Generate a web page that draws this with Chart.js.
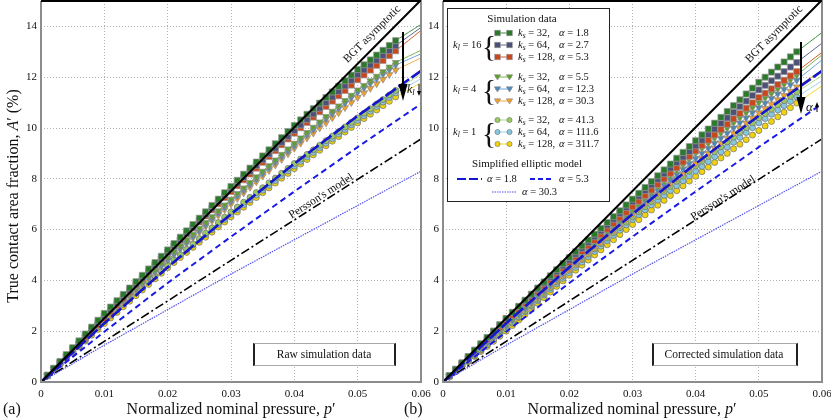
<!DOCTYPE html>
<html>
<head>
<meta charset="utf-8">
<title>True contact area fraction vs normalized nominal pressure</title>
<script src="https://cdn.jsdelivr.net/npm/chart.js@4.4.1/dist/chart.umd.min.js"></script>
<style>
  html, body { margin:0; padding:0; background:#fff; }
  #fig { position:relative; width:831px; height:420px; overflow:hidden;
         font-family:"Liberation Serif","Times New Roman",serif; color:#111; }
  #fig canvas { position:absolute; top:0; }
  #cA { left:0; }
  #cB { left:402px; }
  .t  { position:absolute; white-space:nowrap; line-height:1; z-index:4; }
  .c  { transform:translate(-50%,-50%); }
  .m  { transform:translateY(-50%); }
  .lg { font-size:10.5px; }
  .box { position:absolute; background:#fff; z-index:2; }
  .ov  { position:absolute; left:0; top:0; z-index:3; pointer-events:none; }
  sub { font-size:0.72em; vertical-align:-0.28em; line-height:0; }
  .br { font-size:30px; font-weight:normal; }
</style>
</head>
<body>
<div id="fig">
  <canvas id="cA" width="431" height="400"></canvas>
  <canvas id="cB" width="430" height="400"></canvas>

  <!-- axis titles -->
  <div class="t" style="left:13px;top:196px;font-size:16px;transform:translate(-50%,-50%) rotate(-90deg);">True contact area fraction, <i>A</i>′ (%)</div>
  <div class="t c" style="left:231px;top:409px;font-size:16px;">Normalized nominal pressure, <i>p</i>′</div>
  <div class="t c" style="left:632px;top:409px;font-size:16px;">Normalized nominal pressure, <i>p</i>′</div>
  <div class="t m" style="left:3px;top:409px;font-size:16px;">(a)</div>
  <div class="t m" style="left:404px;top:409px;font-size:16px;">(b)</div>

  <!-- curve labels -->
  <div class="t" style="left:372px;top:34px;font-size:11.5px;transform:translate(-50%,-50%) rotate(-45deg);">BGT asymptotic</div>
  <div class="t" style="left:774px;top:34px;font-size:11.5px;transform:translate(-50%,-50%) rotate(-45deg);">BGT asymptotic</div>
  <div class="t" style="left:321px;top:196px;font-size:11.5px;transform:translate(-50%,-50%) rotate(-32.6deg);">Persson's model</div>
  <div class="t" style="left:723px;top:198px;font-size:11.5px;transform:translate(-50%,-50%) rotate(-32.6deg);">Persson's model</div>

  <div class="t m" style="left:407px;top:89px;font-size:12px;"><i>k<sub>l</sub></i></div>
  <div class="t m" style="left:806px;top:106px;font-size:13px;"><i>α</i></div>

  <!-- panel tags -->
  <div class="box" style="left:253px;top:343px;width:139px;height:21px;border:1px solid #aaa;border-left:2px solid #222;border-right:2px solid #222;"></div>
  <div class="t c" style="left:324px;top:355px;font-size:11.5px;">Raw simulation data</div>
  <div class="box" style="left:652px;top:343px;width:142px;height:21px;border:1px solid #aaa;border-left:2px solid #222;border-right:2px solid #222;"></div>
  <div class="t c" style="left:724px;top:355px;font-size:11.5px;">Corrected simulation data</div>

  <!-- legend (panel b) -->
  <div class="box" style="left:447px;top:8px;width:161px;height:192px;border:1px solid #222;"></div>
  <div class="t c lg" style="left:522px;top:18px;font-size:11px;">Simulation data</div>

  <div class="t m lg" style="left:453px;top:45px;"><i>k<sub>l</sub></i> = 16</div>
  <div class="t c br" style="left:489px;top:46px;">{</div>
  <div class="t m lg" style="left:518px;top:33px;"><i>k<sub>s</sub></i> = 32,</div>
  <div class="t m lg" style="left:559px;top:33px;"><i>α</i> = 1.8</div>
  <div class="t m lg" style="left:518px;top:45px;"><i>k<sub>s</sub></i> = 64,</div>
  <div class="t m lg" style="left:559px;top:45px;"><i>α</i> = 2.7</div>
  <div class="t m lg" style="left:518px;top:57px;"><i>k<sub>s</sub></i> = 128,</div>
  <div class="t m lg" style="left:559px;top:57px;"><i>α</i> = 5.3</div>

  <div class="t m lg" style="left:453px;top:89px;"><i>k<sub>l</sub></i> = 4</div>
  <div class="t c br" style="left:489px;top:90px;">{</div>
  <div class="t m lg" style="left:518px;top:77px;"><i>k<sub>s</sub></i> = 32,</div>
  <div class="t m lg" style="left:559px;top:77px;"><i>α</i> = 5.5</div>
  <div class="t m lg" style="left:518px;top:89px;"><i>k<sub>s</sub></i> = 64,</div>
  <div class="t m lg" style="left:559px;top:89px;"><i>α</i> = 12.3</div>
  <div class="t m lg" style="left:518px;top:101px;"><i>k<sub>s</sub></i> = 128,</div>
  <div class="t m lg" style="left:559px;top:101px;"><i>α</i> = 30.3</div>

  <div class="t m lg" style="left:453px;top:132px;"><i>k<sub>l</sub></i> = 1</div>
  <div class="t c br" style="left:489px;top:133px;">{</div>
  <div class="t m lg" style="left:518px;top:120px;"><i>k<sub>s</sub></i> = 32,</div>
  <div class="t m lg" style="left:559px;top:120px;"><i>α</i> = 41.3</div>
  <div class="t m lg" style="left:518px;top:132px;"><i>k<sub>s</sub></i> = 64,</div>
  <div class="t m lg" style="left:559px;top:132px;"><i>α</i> = 111.6</div>
  <div class="t m lg" style="left:518px;top:144px;"><i>k<sub>s</sub></i> = 128,</div>
  <div class="t m lg" style="left:559px;top:144px;"><i>α</i> = 311.7</div>

  <div class="t c lg" style="left:527px;top:163px;font-size:11px;">Simplified elliptic model</div>
  <div class="t m lg" style="left:487px;top:179px;"><i>α</i> = 1.8</div>
  <div class="t m lg" style="left:559px;top:179px;"><i>α</i> = 5.3</div>
  <div class="t m lg" style="left:522px;top:192px;"><i>α</i> = 30.3</div>

  <svg id="ov" class="ov" width="831" height="420"></svg>
</div>

<script>
/* ── DATA ─────────────────────────────────────────────── */
// normalized nominal pressure p' of each simulation sample
const P = [0,
  0.001,0.002,0.003,0.004,0.005,0.006,0.007,0.008,0.009,0.010,
  0.011,0.012,0.013,0.014,0.015,0.016,0.017,0.018,0.019,0.020,
  0.021,0.022,0.023,0.024,0.025,0.026,0.027,0.028,0.029,0.030,
  0.031,0.032,0.033,0.034,0.035,0.036,0.037,0.038,0.039,0.040,
  0.041,0.042,0.043,0.044,0.045,0.046,0.047,0.048,0.049,0.050,
  0.051,0.052,0.053,0.054,0.055,0.056,0.057,0.058,0.059,0.060];
const FIRST_MARK = 1;
const LAST_MARK  = 56;    // markers stop here, the curve runs on to 0.06

// model curves
const P_MODEL = [0, 0.01, 0.02, 0.03, 0.04, 0.05, 0.06];
const BGT     = [0, 2.51, 5.01, 7.52, 10.03, 12.53, 15.04];
const PERSSON = [0, 1.60, 3.19, 4.79, 6.38, 7.98, 9.57];
const ELL_18  = [0, 2.31, 4.52, 6.61, 8.60, 10.48, 12.25];
const ELL_53  = [0, 1.98, 3.90, 5.72, 7.50, 9.25, 10.95];
const ELL_303 = [0, 1.45, 2.85, 4.25, 5.60, 6.95, 8.30];

const X_TICKS = [0, 0.01, 0.02, 0.03, 0.04, 0.05, 0.06];
const Y_TICKS = [0, 2, 4, 6, 8, 10, 12, 14];

/* (a) raw simulation data, A' in % */
const RAW_K16_S32 = [0,
  0.27,0.54,0.81,1.08,1.35,1.62,1.89,2.16,2.43,2.70,
  2.95,3.20,3.45,3.70,3.95,4.20,4.45,4.70,4.95,5.20,
  5.45,5.70,5.95,6.20,6.45,6.70,6.95,7.20,7.45,7.70,
  7.94,8.18,8.42,8.66,8.90,9.14,9.38,9.62,9.86,10.10,
  10.32,10.54,10.76,10.98,11.20,11.42,11.64,11.86,12.08,12.30,
  12.49,12.68,12.87,13.06,13.25,13.44,13.60,13.76,13.92,14.08];
const RAW_K16_S64 = [0,
  0.26,0.52,0.78,1.04,1.30,1.56,1.82,2.08,2.34,2.60,
  2.85,3.10,3.35,3.60,3.85,4.10,4.35,4.60,4.85,5.10,
  5.35,5.60,5.85,6.10,6.35,6.60,6.85,7.10,7.35,7.60,
  7.83,8.06,8.29,8.52,8.75,8.98,9.21,9.44,9.67,9.90,
  10.12,10.34,10.56,10.78,11.00,11.22,11.44,11.66,11.88,12.10,
  12.29,12.48,12.67,12.86,13.05,13.24,13.42,13.60,13.78,13.96];
const RAW_K16_S128 = [0,
  0.25,0.50,0.75,1.00,1.25,1.50,1.75,2.00,2.25,2.50,
  2.76,3.02,3.28,3.54,3.80,4.06,4.32,4.58,4.84,5.10,
  5.34,5.58,5.82,6.06,6.30,6.54,6.78,7.02,7.26,7.50,
  7.73,7.96,8.19,8.42,8.65,8.88,9.11,9.34,9.57,9.80,
  10.01,10.22,10.43,10.64,10.85,11.06,11.27,11.48,11.69,11.90,
  12.09,12.28,12.47,12.66,12.85,13.04,13.24,13.44,13.64,13.84];
const RAW_K4_S32 = [0,
  0.25,0.50,0.75,1.00,1.25,1.50,1.75,2.00,2.25,2.50,
  2.74,2.98,3.22,3.46,3.70,3.94,4.18,4.42,4.66,4.90,
  5.13,5.36,5.59,5.82,6.05,6.28,6.51,6.74,6.97,7.20,
  7.42,7.64,7.86,8.08,8.30,8.52,8.74,8.96,9.18,9.40,
  9.61,9.82,10.03,10.24,10.45,10.66,10.87,11.08,11.29,11.50,
  11.68,11.86,12.04,12.22,12.40,12.58,12.70,12.82,12.94,13.06];
const RAW_K4_S64 = [0,
  0.25,0.50,0.75,1.00,1.25,1.50,1.75,2.00,2.25,2.50,
  2.73,2.96,3.19,3.42,3.65,3.88,4.11,4.34,4.57,4.80,
  5.03,5.26,5.49,5.72,5.95,6.18,6.41,6.64,6.87,7.10,
  7.32,7.54,7.76,7.98,8.20,8.42,8.64,8.86,9.08,9.30,
  9.51,9.72,9.93,10.14,10.35,10.56,10.77,10.98,11.19,11.40,
  11.58,11.76,11.94,12.12,12.30,12.48,12.59,12.70,12.81,12.92];
const RAW_K4_S128 = [0,
  0.24,0.48,0.72,0.96,1.20,1.44,1.68,1.92,2.16,2.40,
  2.64,2.88,3.12,3.36,3.60,3.84,4.08,4.32,4.56,4.80,
  5.02,5.24,5.46,5.68,5.90,6.12,6.34,6.56,6.78,7.00,
  7.22,7.44,7.66,7.88,8.10,8.32,8.54,8.76,8.98,9.20,
  9.40,9.60,9.80,10.00,10.20,10.40,10.60,10.80,11.00,11.20,
  11.38,11.56,11.74,11.92,12.10,12.28,12.40,12.52,12.64,12.76];
const RAW_K1_S32 = [0,
  0.24,0.48,0.72,0.96,1.20,1.44,1.68,1.92,2.16,2.40,
  2.62,2.84,3.06,3.28,3.50,3.72,3.94,4.16,4.38,4.60,
  4.81,5.02,5.23,5.44,5.65,5.86,6.07,6.28,6.49,6.70,
  6.89,7.08,7.27,7.46,7.65,7.84,8.03,8.22,8.41,8.60,
  8.78,8.96,9.14,9.32,9.50,9.68,9.86,10.04,10.22,10.40,
  10.58,10.76,10.94,11.12,11.30,11.48,11.64,11.80,11.96,12.12];
const RAW_K1_S64 = [0,
  0.24,0.48,0.72,0.96,1.20,1.44,1.68,1.92,2.16,2.40,
  2.62,2.84,3.06,3.28,3.50,3.72,3.94,4.16,4.38,4.60,
  4.80,5.00,5.20,5.40,5.60,5.80,6.00,6.20,6.40,6.60,
  6.79,6.98,7.17,7.36,7.55,7.74,7.93,8.12,8.31,8.50,
  8.68,8.86,9.04,9.22,9.40,9.58,9.76,9.94,10.12,10.30,
  10.48,10.66,10.84,11.02,11.20,11.38,11.52,11.66,11.80,11.94];
const RAW_K1_S128 = [0,
  0.23,0.46,0.69,0.92,1.15,1.38,1.61,1.84,2.07,2.30,
  2.52,2.74,2.96,3.18,3.40,3.62,3.84,4.06,4.28,4.50,
  4.70,4.90,5.10,5.30,5.50,5.70,5.90,6.10,6.30,6.50,
  6.69,6.88,7.07,7.26,7.45,7.64,7.83,8.02,8.21,8.40,
  8.58,8.76,8.94,9.12,9.30,9.48,9.66,9.84,10.02,10.20,
  10.37,10.54,10.71,10.88,11.05,11.22,11.36,11.50,11.64,11.78];

/* (b) corrected simulation data, A' in % */
const COR_K16_S32 = [0,
  0.25,0.50,0.75,1.00,1.25,1.50,1.75,2.00,2.25,2.50,
  2.74,2.98,3.22,3.46,3.70,3.94,4.18,4.42,4.66,4.90,
  5.13,5.36,5.59,5.82,6.05,6.28,6.51,6.74,6.97,7.20,
  7.43,7.66,7.89,8.12,8.35,8.58,8.81,9.04,9.27,9.50,
  9.73,9.96,10.19,10.42,10.65,10.88,11.11,11.34,11.57,11.80,
  12.00,12.20,12.40,12.60,12.80,13.00,13.19,13.38,13.57,13.76];
const COR_K16_S64 = [0,
  0.25,0.50,0.75,1.00,1.25,1.50,1.75,2.00,2.25,2.50,
  2.73,2.96,3.19,3.42,3.65,3.88,4.11,4.34,4.57,4.80,
  5.03,5.26,5.49,5.72,5.95,6.18,6.41,6.64,6.87,7.10,
  7.32,7.54,7.76,7.98,8.20,8.42,8.64,8.86,9.08,9.30,
  9.52,9.74,9.96,10.18,10.40,10.62,10.84,11.06,11.28,11.50,
  11.68,11.86,12.04,12.22,12.40,12.58,12.77,12.96,13.15,13.34];
const COR_K16_S128 = [0,
  0.24,0.48,0.72,0.96,1.20,1.44,1.68,1.92,2.16,2.40,
  2.63,2.86,3.09,3.32,3.55,3.78,4.01,4.24,4.47,4.70,
  4.92,5.14,5.36,5.58,5.80,6.02,6.24,6.46,6.68,6.90,
  7.12,7.34,7.56,7.78,8.00,8.22,8.44,8.66,8.88,9.10,
  9.31,9.52,9.73,9.94,10.15,10.36,10.57,10.78,10.99,11.20,
  11.37,11.54,11.71,11.88,12.05,12.22,12.41,12.60,12.79,12.98];
const COR_K4_S32 = [0,
  0.23,0.46,0.69,0.92,1.15,1.38,1.61,1.84,2.07,2.30,
  2.53,2.76,2.99,3.22,3.45,3.68,3.91,4.14,4.37,4.60,
  4.82,5.04,5.26,5.48,5.70,5.92,6.14,6.36,6.58,6.80,
  7.02,7.24,7.46,7.68,7.90,8.12,8.34,8.56,8.78,9.00,
  9.20,9.40,9.60,9.80,10.00,10.20,10.40,10.60,10.80,11.00,
  11.18,11.36,11.54,11.72,11.90,12.08,12.28,12.48,12.68,12.88];
const COR_K4_S64 = [0,
  0.22,0.44,0.66,0.88,1.10,1.32,1.54,1.76,1.98,2.20,
  2.43,2.66,2.89,3.12,3.35,3.58,3.81,4.04,4.27,4.50,
  4.72,4.94,5.16,5.38,5.60,5.82,6.04,6.26,6.48,6.70,
  6.91,7.12,7.33,7.54,7.75,7.96,8.17,8.38,8.59,8.80,
  9.00,9.20,9.40,9.60,9.80,10.00,10.20,10.40,10.60,10.80,
  10.98,11.16,11.34,11.52,11.70,11.88,12.08,12.28,12.48,12.68];
const COR_K4_S128 = [0,
  0.22,0.44,0.66,0.88,1.10,1.32,1.54,1.76,1.98,2.20,
  2.42,2.64,2.86,3.08,3.30,3.52,3.74,3.96,4.18,4.40,
  4.62,4.84,5.06,5.28,5.50,5.72,5.94,6.16,6.38,6.60,
  6.80,7.00,7.20,7.40,7.60,7.80,8.00,8.20,8.40,8.60,
  8.80,9.00,9.20,9.40,9.60,9.80,10.00,10.20,10.40,10.60,
  10.77,10.94,11.11,11.28,11.45,11.62,11.78,11.94,12.10,12.26];
const COR_K1_S32 = [0,
  0.21,0.42,0.63,0.84,1.05,1.26,1.47,1.68,1.89,2.10,
  2.33,2.56,2.79,3.02,3.25,3.48,3.71,3.94,4.17,4.40,
  4.61,4.82,5.03,5.24,5.45,5.66,5.87,6.08,6.29,6.50,
  6.70,6.90,7.10,7.30,7.50,7.70,7.90,8.10,8.30,8.50,
  8.69,8.88,9.07,9.26,9.45,9.64,9.83,10.02,10.21,10.40,
  10.57,10.74,10.91,11.08,11.25,11.42,11.58,11.74,11.90,12.06];
const COR_K1_S64 = [0,
  0.21,0.42,0.63,0.84,1.05,1.26,1.47,1.68,1.89,2.10,
  2.32,2.54,2.76,2.98,3.20,3.42,3.64,3.86,4.08,4.30,
  4.51,4.72,4.93,5.14,5.35,5.56,5.77,5.98,6.19,6.40,
  6.59,6.78,6.97,7.16,7.35,7.54,7.73,7.92,8.11,8.30,
  8.49,8.68,8.87,9.06,9.25,9.44,9.63,9.82,10.01,10.20,
  10.37,10.54,10.71,10.88,11.05,11.22,11.38,11.54,11.70,11.86];
const COR_K1_S128 = [0,
  0.20,0.40,0.60,0.80,1.00,1.20,1.40,1.60,1.80,2.00,
  2.22,2.44,2.66,2.88,3.10,3.32,3.54,3.76,3.98,4.20,
  4.40,4.60,4.80,5.00,5.20,5.40,5.60,5.80,6.00,6.20,
  6.39,6.58,6.77,6.96,7.15,7.34,7.53,7.72,7.91,8.10,
  8.28,8.46,8.64,8.82,9.00,9.18,9.36,9.54,9.72,9.90,
  10.08,10.26,10.44,10.62,10.80,10.98,11.15,11.32,11.49,11.66];

/* ── STYLES ───────────────────────────────────────────── */
const KEYS = ['k16s32','k16s64','k16s128','k4s32','k4s64','k4s128','k1s32','k1s64','k1s128'];
const STYLE = {
  k16s32:  { shape:'rect',     rot:0,   r:4.3, fill:'#2b7a2b', edge:'#9a9a9a', line:'#3f913f' },
  k16s64:  { shape:'rect',     rot:0,   r:4.3, fill:'#4c5277', edge:'#9a9a9a', line:'#5e6492' },
  k16s128: { shape:'rect',     rot:0,   r:4.3, fill:'#c9471b', edge:'#9a9a9a', line:'#d65a2c' },
  k4s32:   { shape:'triangle', rot:180, r:3.9, fill:'#5f9f2d', edge:'#8a8a8a', line:'#78b64a' },
  k4s64:   { shape:'triangle', rot:180, r:3.9, fill:'#4d86b9', edge:'#8a8a8a', line:'#6ca2d2' },
  k4s128:  { shape:'triangle', rot:180, r:3.9, fill:'#f0a02c', edge:'#8a8a8a', line:'#f5ab40' },
  k1s32:   { shape:'circle',   rot:0,   r:3.0, fill:'#9acb62', edge:'#6f6f6f', line:'#b3dc88' },
  k1s64:   { shape:'circle',   rot:0,   r:3.0, fill:'#86c6e0', edge:'#6f6f6f', line:'#98d3ee' },
  k1s128:  { shape:'circle',   rot:0,   r:3.0, fill:'#f0d30c', edge:'#6f6f6f', line:'#f2d82a' }
};
const MODELS = [
  { vals:BGT,     color:'#000000', width:2.0, dash:[] },
  { vals:ELL_18,  color:'#1616cc', width:2.6, dash:[13,3] },
  { vals:ELL_53,  color:'#1a1ae6', width:2.0, dash:[6,4] },
  { vals:ELL_303, color:'#5252ee', width:1.2, dash:[1.5,1] },
  { vals:PERSSON, color:'#000000', width:1.6, dash:[9,3,2,3] }
];

const RAW = { k16s32:RAW_K16_S32, k16s64:RAW_K16_S64, k16s128:RAW_K16_S128,
              k4s32:RAW_K4_S32,   k4s64:RAW_K4_S64,   k4s128:RAW_K4_S128,
              k1s32:RAW_K1_S32,   k1s64:RAW_K1_S64,   k1s128:RAW_K1_S128 };
const COR = { k16s32:COR_K16_S32, k16s64:COR_K16_S64, k16s128:COR_K16_S128,
              k4s32:COR_K4_S32,   k4s64:COR_K4_S64,   k4s128:COR_K4_S128,
              k1s32:COR_K1_S32,   k1s64:COR_K1_S64,   k1s128:COR_K1_S128 };

/* ── DATASETS ─────────────────────────────────────────── */
function modelDs(m) {
  return {
    data: P_MODEL.map((p, i) => ({ x: p, y: m.vals[i] })),
    borderColor: m.color, borderWidth: m.width, borderDash: m.dash,
    pointRadius: 0, tension: 0, fill: false, clip: false
  };
}
function simDs(vals, st) {
  return {
    data: P.map((p, i) => ({ x: p, y: vals[i] })),
    borderColor: st.line, borderWidth: 1, tension: 0, fill: false,
    pointStyle: st.shape, pointRotation: st.rot,
    pointBackgroundColor: st.fill, pointBorderColor: st.edge, pointBorderWidth: 0.7,
    pointRadius: c => (c.dataIndex >= FIRST_MARK && c.dataIndex <= LAST_MARK) ? st.r : 0,
    pointHoverRadius: 0
  };
}

/* ── FRAME ────────────────────────────────────────────── */
const framePlugin = {
  id: 'frame',
  afterDatasetsDraw(chart) {
    const { ctx, chartArea: a } = chart;
    ctx.save();
    ctx.lineWidth = 2;
    ctx.strokeStyle = '#8c8c8c';
    ctx.beginPath();
    ctx.moveTo(a.left, a.top); ctx.lineTo(a.left, a.bottom);
    ctx.lineTo(a.right, a.bottom); ctx.lineTo(a.right, a.top);
    ctx.stroke();
    ctx.strokeStyle = '#000';
    ctx.beginPath(); ctx.moveTo(a.left, a.top); ctx.lineTo(a.right, a.top); ctx.stroke();
    ctx.restore();
  }
};

const tickFont = { family: '"Liberation Serif", serif', size: 11 };

function buildPanel(id, series) {
  const datasets = MODELS.map(modelDs).concat(KEYS.map(k => simDs(series[k], STYLE[k])));
  return new Chart(document.getElementById(id), {
    type: 'line',
    data: { datasets },
    plugins: [framePlugin],
    options: {
      responsive: false,
      animation: false,
      devicePixelRatio: 1,
      parsing: false,
      events: [],
      layout: { padding: { top: 1, right: 10, bottom: 0, left: 0 } },
      plugins: { legend: { display: false }, tooltip: { enabled: false } },
      scales: {
        x: {
          type: 'linear', min: 0, max: 0.06,
          afterBuildTicks: s => { s.ticks = X_TICKS.map(v => ({ value: v })); },
          afterFit: s => { s.height = 18; s.paddingLeft = 0; s.paddingRight = 0; },
          grid: { color: '#b2b2b2', lineWidth: 1, drawTicks: false },
          border: { display: false, dash: [1, 2] },
          ticks: { color: '#111', font: tickFont, padding: 6, maxRotation: 0, autoSkip: false,
                   callback: v => v === 0 ? '0' : v.toFixed(2) }
        },
        y: {
          type: 'linear', min: 0, max: 15,
          afterBuildTicks: s => { s.ticks = Y_TICKS.map(v => ({ value: v })); },
          afterFit: s => { s.width = 41; s.paddingTop = 0; s.paddingBottom = 0; },
          grid: { color: '#b2b2b2', lineWidth: 1, drawTicks: false },
          border: { display: false, dash: [1, 2] },
          ticks: { color: '#111', font: tickFont, padding: 4, callback: v => String(v) }
        }
      }
    }
  });
}

buildPanel('cA', RAW);
buildPanel('cB', COR);

/* ── OVERLAY: arrows + legend symbols ─────────────────── */
function arrow(x, yTail, yTip, head, w, lw) {
  const dir = yTip > yTail ? 1 : -1;
  const yBase = yTip - dir * head;
  return `<line x1="${x}" y1="${yTail}" x2="${x}" y2="${yBase}" stroke="#000" stroke-width="${lw}"/>` +
         `<polygon points="${x - w},${yBase} ${x + w},${yBase} ${x},${yTip}" fill="#000"/>`;
}
function marker(st, cx, cy) {
  const a = `fill="${st.fill}" stroke="${st.edge}" stroke-width="0.6"`;
  if (st.shape === 'rect') return `<rect x="${cx - 2.8}" y="${cy - 2.8}" width="5.6" height="5.6" ${a}/>`;
  if (st.shape === 'triangle') return `<polygon points="${cx - 3.2},${cy - 2.2} ${cx + 3.2},${cy - 2.2} ${cx},${cy + 3}" ${a}/>`;
  return `<circle cx="${cx}" cy="${cy}" r="2.6" ${a}/>`;
}

const LEG_ROW_Y = [33, 45, 57, 77, 89, 101, 120, 132, 144];
let svg = '';
svg += arrow(403, 32, 101, 17, 4.5, 2);
svg += arrow(419, 84, 96, 5, 2, 1);
svg += arrow(801, 42, 114, 17, 4.5, 2);
svg += arrow(817, 112, 102, 5, 2, 1);

KEYS.forEach((k, i) => {
  const st = STYLE[k], y = LEG_ROW_Y[i];
  svg += `<line x1="495" y1="${y}" x2="512" y2="${y}" stroke="${st.line}" stroke-width="1"/>`;
  svg += marker(st, 497.5, y) + marker(st, 509.5, y);
});
svg += `<line x1="457" y1="179" x2="482" y2="179" stroke="#1616cc" stroke-width="2.2" stroke-dasharray="9,3"/>`;
svg += `<line x1="530" y1="179" x2="554" y2="179" stroke="#1a1ae6" stroke-width="1.8" stroke-dasharray="5,3"/>`;
svg += `<line x1="492" y1="192" x2="517" y2="192" stroke="#5252ee" stroke-width="1.2" stroke-dasharray="1.5,1"/>`;
document.getElementById('ov').innerHTML = svg;
</script>
</body>
</html>
